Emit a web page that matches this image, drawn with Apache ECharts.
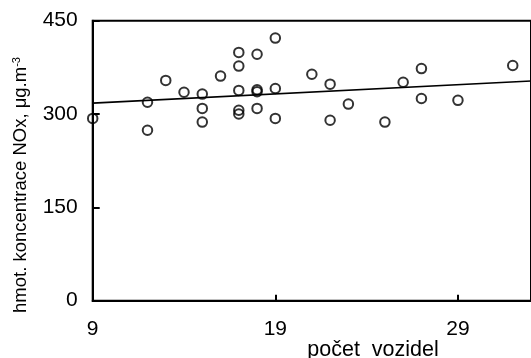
<!DOCTYPE html>
<html>
<head>
<meta charset="utf-8">
<script src="https://cdn.jsdelivr.net/npm/echarts@6/dist/echarts.min.js"></script>
<style>
  html, body { margin: 0; padding: 0; background: #fff; }
  #chart { width: 531px; height: 358px; }
</style>
</head>
<body>
<div id="chart"></div>
<script>
// number of vehicles vs. NOx mass concentration
const vehicles = [9, 12, 12, 13, 14, 15, 15, 15, 16, 17, 17, 17, 17, 17, 18, 18, 18, 18, 19, 19, 19, 21, 22, 22, 23, 25, 26, 27, 27, 29, 32];
const nox = [293, 319, 274, 354, 335, 332, 309, 287, 361, 399, 377, 338, 306, 300, 396, 339, 336, 309, 422, 341, 293, 364, 348, 290, 316, 287, 351, 373, 325, 322, 378];

// linear trend line endpoints
const trendX = [9, 33];
const trendY = [317.5, 353];

// tick labels
const xTicks = [9, 19, 29];
const yTicks = [0, 150, 300, 450];

const FONT = '"Liberation Sans", Arial, sans-serif';

const points = vehicles.map((v, i) => [v, nox[i]]);
const trend = trendX.map((v, i) => [v, trendY[i]]);

const chart = echarts.init(document.getElementById('chart'), null, { renderer: 'canvas' });
chart.setOption({
  animation: false,
  backgroundColor: '#fff',
  grid: {
    left: 92.7, top: 20.7, bottom: 57.3, right: -11.7,
    show: true, borderColor: '#000', borderWidth: 2, backgroundColor: 'transparent'
  },
  xAxis: {
    type: 'value', min: 9, max: 33,
    axisLine: { show: true, lineStyle: { color: '#000', width: 2 } },
    axisTick: { show: true, inside: true, length: 6, lineStyle: { color: '#000', width: 2 }, customValues: xTicks },
    axisLabel: { color: '#000', fontFamily: FONT, fontSize: 21, margin: 18, customValues: xTicks },
    splitLine: { show: false }
  },
  yAxis: {
    type: 'value', min: 0, max: 450, interval: 150,
    axisLine: { show: true, lineStyle: { color: '#000', width: 2 } },
    axisTick: { show: true, inside: true, length: 7, lineStyle: { color: '#000', width: 2 }, customValues: yTicks },
    axisLabel: { color: '#000', fontFamily: FONT, fontSize: 21, margin: 15, customValues: yTicks },
    splitLine: { show: false }
  },
  graphic: [
    {
      type: 'text', x: 373, y: 350,
      style: {
        text: 'počet  vozidel', fill: '#000', font: '21.5px ' + FONT,
        align: 'center', verticalAlign: 'middle'
      }
    },
    {
      type: 'text', x: 21, y: 185, rotation: Math.PI / 2,
      style: {
        text: '{a|hmot. koncentrace NOx, μg.m}{s|-3}',
        align: 'center', verticalAlign: 'middle',
        rich: {
          a: { fill: '#000', fontFamily: FONT, fontSize: 18.5, verticalAlign: 'bottom' },
          s: { fill: '#000', fontFamily: FONT, fontSize: 11, verticalAlign: 'top' }
        }
      }
    }
  ],
  series: [
    {
      type: 'line', data: trend, symbol: 'none', silent: true,
      lineStyle: { color: '#000', width: 1.6 }, z: 2
    },
    {
      type: 'scatter', data: points, symbol: 'circle', symbolSize: 9.5,
      itemStyle: { color: 'transparent', borderColor: '#000', borderWidth: 2 }, z: 3
    }
  ]
});
</script>
</body>
</html>
